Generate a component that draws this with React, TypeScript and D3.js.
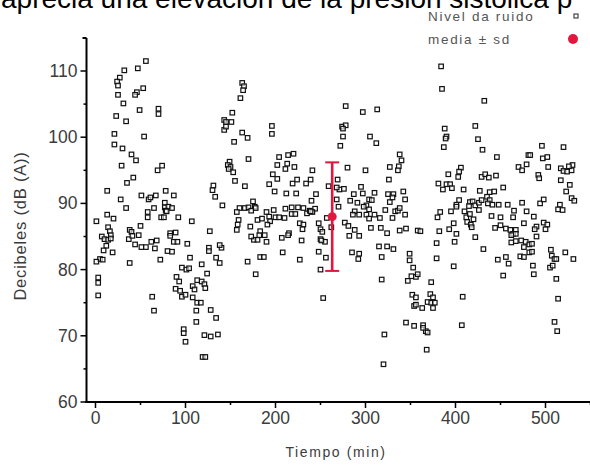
import React from "react";
import { scaleLinear, range } from "d3";

// readings of noise level: [minute, dB(A)]
const ruidoA: number[][] = [
  [56,111.5],[47,110.4],[32,110.1],[27,109],[24,108.4],[25,107.8],[53,107.4],[46,106.8],[44,106.4],[25,106.4],
  [31,105.1],[49,104.1],[70,104.3],[70,103.5],[23,103.2],[34,102.4],[21,100.5],[54,100.1],[21,98.9],[30,98.3],
  [40,97.4],[45,96.5],[29,95.7],[74,95.7],[69,95],[42,93.9],[35,93.1],[13,91.9],[51,91.2],[28,90.6],
  [59,90.6],[61,90.9],[67,91.2],[78,91.9],[87,91.2],[34,89.3],[65,89.3],[77,90.1],[77,89.4],[81,89.5],
  [85,89.3],[78,88.9],[79,88.8],[73,87.9],[76,87.9],[92,87.9],[58,88.7],[58,87.9],[13,88.3],[20,87.7],
  [1,87.3],[107,87.3],[38,86],[40,85.7],[50,86.6],[14,86.4],[16,85.8],[17,85.2],[7,85],[10,84.6],
  [37,84.6],[41,85.1],[48,85.2],[83,85.5],[89,85.6],[83,85.1],[14,84.5],[17,84.7],[12,83.6],[87,84.2],
  [91,84.2],[62,84.2],[68,84.4],[44,83.8],[51,83.4],[56,83.4],[66,83.2],[102,83.9],[9,82.9],[19,82.6],
  [80,82.8],[85,82.7],[105,81.8],[5,81.6],[1,81.2],[8,81.5],[72,81.5],[38,81],[96,80.3],[101,80],
  [104,80.2],[90,78.9],[93,78.2],[3,78.8],[3,78],[89,77.1],[94,76.8],[96,75.9],[100,76.2],[108,77.5],
  [110,77],[113,78.4],[3,76.1],[63,75.9],[108,75.8],[113,75],[112,73.8],[112,72.1],[65,73.8],[98,71],
  [98,70.4],[100,69.1]
];
const ruidoB: number[][] = [
  [163,108.2],[165,107.7],[164,107.1],[161,105.9],[152,103.7],[143,102.6],[145,102.3],[151,102.3],[143,101.1],[145,101.6],
  [163,100.7],[169,99.9],[154,99.3],[196,101.7],[196,100.5],[170,96.7],[149,96.3],[147,95.8],[150,95.5],[148,95.2],
  [153,94.7],[155,93.4],[166,92.6],[131,92.7],[130,92],[133,91],[141,89.7],[204,97],[214,97.3],[220,97.5],
  [202,95.8],[213,96],[211,95.2],[221,95.5],[197,94.4],[202,93.7],[193,92.9],[199,91.8],[212,91.5],[223,91.5],
  [219,93],[224,93.6],[234,93],[175,90.3],[177,89.5],[160,89.3],[166,89.3],[170,89.4],[173,88.9],[178,89.3],
  [157,88.7],[159,87.5],[158,86.8],[157,86],[180,87.5],[185,87.7],[190,88.7],[193,88],[194,87.3],[191,86.8],
  [198,89],[200,87.9],[204,87.9],[210,87.8],[211,89.2],[218,89.4],[225,89.4],[231,89.3],[218,88.4],[222,88.4],
  [235,88.5],[238,88.9],[227,87],[231,86.8],[230,86.1],[127,85.8],[172,86.5],[183,85.8],[182,85.2],[188,85.2],
  [176,84.5],[180,84.5],[190,84.2],[173,85],[207,84.8],[215,85.5],[214,85.2],[229,84.4],[126,83.3],[126,82.8],
  [140,83.3],[138,83.7],[134,81.8],[138,81],[169,81.2],[183,81.9],[187,81.9],[208,82.6],[227,81.5],[178,79.3],
  [118,80.8],[124,79.4],[118,78.2],[121,77.8],[122,77.2],[117,75],[128,73.9],[134,72.7],[121,70.1],[128,69.9],
  [136,70.2],[119,66.8],[122,66.8]
];
const ruidoC: number[][] = [
  [278,104.7],[297,103.8],[313,104.2],[274,101.6],[278,101.8],[275,101.3],[275,100.1],[272,98.7],[305,100.1],[312,99.1],
  [338,97.4],[340,96.5],[337,95.6],[336,95],[327,95.5],[326,93.6],[280,95.4],[300,95],[241,95],[239,93.6],
  [259,92.6],[269,93.6],[271,92.1],[276,92.2],[268,92.4],[295,92.5],[297,91.5],[287,91.4],[245,91.4],[240,90.4],
  [244,89.2],[241,88.7],[239,88.8],[310,91.6],[304,90.6],[307,90.5],[301,89.7],[304,89.1],[325,91.4],[331,91.4],
  [327,90.2],[330,90.9],[342,91.8],[344,90.6],[283,90.4],[291,90.1],[288,88.8],[286,88.3],[293,88.3],[298,89.5],
  [301,88.3],[304,87.7],[310,88.3],[316,87.8],[322,89],[333,88.8],[336,88.9],[330,87.8],[338,89.3],[344,88.3],
  [268,90.6],[270,89.5],[257,87.8],[262,86.4],[248,87],[250,86.1],[252,85.7],[277,87.1],[281,86.6],[288,86],
  [282,85.1],[293,85.1],[306,86.3],[317,86.3],[324,85.5],[338,85.9],[345,86.2],[358,85.9],[250,84.6],[255,84.2],
  [251,84.4],[248,82.7],[256,81.8],[285,82.6],[293,82.4],[292,81.6],[315,83.5],[324,83.5],[331,83.1],[318,81.9],
  [349,82.4],[349,81.4],[250,80],[353,80.3],[347,78.3],[351,79],[356,78.9],[358,79.3],[318,78.5],[352,76.2],
  [356,75.8],[354,74.5],[356,74.7],[253,75.7],[345,72],[354,71.5],[321,70.2],[320,65.7]
];
const ruidoD: number[][] = [
  [384,110.7],[385,107.3],[432,105.5],[388,101.3],[390,100.1],[389,99.8],[387,98.5],[422,101.7],[425,99.7],[430,98.1],
  [446,97],[481,97.3],[479,95.9],[470,95.5],[474,95],[406,95.4],[404,94.8],[403,94],[392,94.4],[429,94],
  [433,94.4],[437,93.9],[445,94.2],[381,93],[386,92.1],[390,92.9],[394,92.9],[396,92.3],[409,92.1],[427,91.9],
  [438,91.7],[443,91.8],[453,92.4],[404,90.5],[401,89.8],[416,90.2],[419,90.3],[415,89.6],[422,89.7],[426,90.1],
  [429,90.5],[435,91],[438,90.5],[436,90],[441,89.8],[448,89.8],[458,89.8],[474,90.1],[410,88.8],[412,87.9],
  [416,88.4],[426,89],[440,88.1],[450,87.9],[465,88.9],[479,88.8],[464,87.9],[383,88.7],[380,87.9],[395,88.8],
  [401,89.5],[413,87.2],[417,86.8],[418,86.4],[398,87],[420,87.6],[444,86.3],[450,86.7],[456,86.2],[461,86],
  [467,86],[476,87],[361,85.8],[382,85.8],[393,86.1],[401,85.4],[464,85.4],[462,85.2],[467,85.4],[422,84.9],
  [379,84],[399,84.2],[462,84.1],[467,84.3],[473,84.4],[478,84.2],[482,83.8],[476,83.4],[482,82.6],[431,83.1],
  [472,82],[476,81.9],[447,81.5],[456,81.9],[459,80.9],[379,81.7],[398,80.5],[453,79.1],[373,78.1],[363,74.2],
  [372,76.3],[375,75.8],[369,75.1],[373,75],[377,75],[375,74.2],[408,75.9],[364,71.6],[367,70.7],[369,70.5],
  [364,71.2],[407,71.6],[368,67.9]
];
const ruidoE: number[][] = [
  [496,98.7],[520,98.5],[483,97.3],[497,96.8],[502,97],[503,95.5],[517,95.3],[520,94.9],[524,94.8],[529,95],
  [530,95.8],[526,95.6],[492,94.3],[493,93.8],[517,93.5],[527,92.8],[523,91.8],[529,90.8],[532,90.4],[494,90],
  [498,90.6],[516,89.8],[514,89.1],[519,89],[487,88],[490,86.5],[488,86.1],[498,87.1],[502,86.8],[500,86.1],
  [490,85],[485,83.9],[485,82.7],[506,83],[507,82.1],[510,81.6],[512,81.6],[505,80.3],[508,80.6],[522,82.6],
  [531,81.6],[486,80.6],[487,79.3],[512,78.6],[514,75.6],[510,72.1],[513,70.7]
];
const ruido = [...ruidoA, ...ruidoB, ...ruidoC, ...ruidoD, ...ruidoE];

// mean ± sd
const mediaT = 263;
const media = 88;
const sd = 8.2;

const xTicks = [0, 100, 200, 300, 400, 500];
const yTicks = [60, 70, 80, 90, 100, 110];

const red = "#e3173e";
const grey = "#3c3c3c";
const font = "'Liberation Sans', Arial, sans-serif";

export default function App() {
  const x = scaleLinear().domain([0, 500]).range([95.5, 545.5]);
  const y = scaleLinear().domain([60, 110]).range([402, 71]);
  const x0 = 86.5;
  const yTop = 38;
  const minorX = range(50, 600, 100);
  const minorY = range(65, 115, 10);

  return (
    <svg width={590} height={469} style={{ position: "absolute", left: 0, top: 0, background: "#fff" }}>
      <text x={1} y={8} fontFamily={font} fontSize={28} fill="#000">
        aprecia una elevación de la presión sistólica p
      </text>

      {/* legend */}
      <text x={428} y={21} fontFamily={font} fontSize={13.5} fill="#555" letterSpacing={1.7}>Nivel da ruido</text>
      <rect x={574} y={14} width={4} height={4} fill="#fff" stroke="#222" strokeWidth={1} />
      <text x={428} y={44} fontFamily={font} fontSize={13.5} fill="#555" letterSpacing={1.7}>media ± sd</text>
      <circle cx={573} cy={39} r={5} fill={red} />

      {/* points */}
      {ruido.map((d, i) => (
        <rect key={i} x={x(d[0]) - 2.25} y={y(d[1]) - 2.25} width={4.5} height={4.5}
          fill="#fff" fillOpacity={0.6} stroke="#111" strokeWidth={1.2} />
      ))}

      {/* error bar */}
      <line x1={x(mediaT)} x2={x(mediaT)} y1={y(media + sd)} y2={y(media - sd)} stroke={red} strokeWidth={2.6} />
      <line x1={x(mediaT) - 7} x2={x(mediaT) + 7} y1={y(media + sd)} y2={y(media + sd)} stroke={red} strokeWidth={2} />
      <line x1={x(mediaT) - 7} x2={x(mediaT) + 7} y1={y(media - sd)} y2={y(media - sd)} stroke={red} strokeWidth={2} />
      <circle cx={x(mediaT)} cy={y(media)} r={4.5} fill={red} />

      {/* y axis */}
      <line x1={x0} x2={x0} y1={yTop} y2={403} stroke="#000" strokeWidth={2} />
      <line x1={x0 - 4} x2={x0} y1={yTop} y2={yTop} stroke="#000" strokeWidth={2} />
      {yTicks.map(t => (
        <g key={t}>
          <line x1={x0 - 6} x2={x0} y1={y(t)} y2={y(t)} stroke="#000" strokeWidth={1.5} />
          <text x={x0 - 9} y={y(t) + 6} textAnchor="end" fontFamily={font} fontSize={17.5} fill={grey}>{t}</text>
        </g>
      ))}
      {minorY.map(t => (
        <line key={t} x1={x0 - 3} x2={x0} y1={y(t)} y2={y(t)} stroke="#000" strokeWidth={1.5} />
      ))}
      <text transform="translate(26,226) rotate(-90)" textAnchor="middle" fontFamily={font} fontSize={16.5}
        fill={grey} letterSpacing={0.8}>Decibeles (dB (A))</text>

      {/* x axis */}
      <line x1={x0 - 1} x2={590} y1={402} y2={402} stroke="#000" strokeWidth={2} />
      {xTicks.map(t => (
        <g key={t}>
          <line x1={x(t)} x2={x(t)} y1={402} y2={408} stroke="#000" strokeWidth={1.5} />
          <text x={x(t)} y={424} textAnchor="middle" fontFamily={font} fontSize={17.5} fill={grey}>{t}</text>
        </g>
      ))}
      {minorX.map(t => (
        <line key={t} x1={x(t)} x2={x(t)} y1={402} y2={405} stroke="#000" strokeWidth={1.5} />
      ))}
      <text x={336} y={457} textAnchor="middle" fontFamily={font} fontSize={14} fill={grey} letterSpacing={1.6}>
        Tiempo (min)
      </text>
    </svg>
  );
}
